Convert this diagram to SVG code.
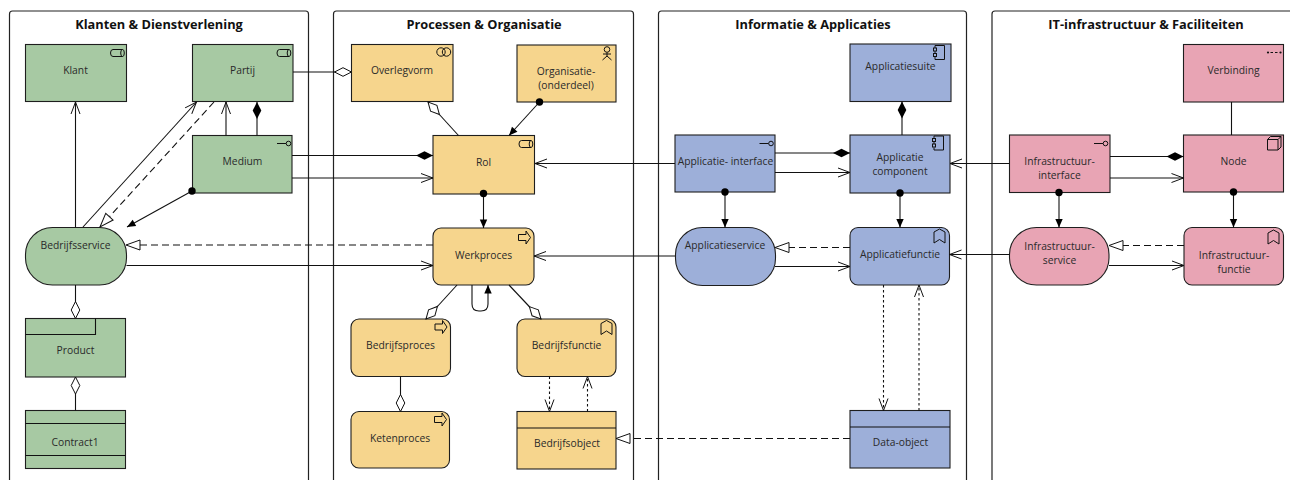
<svg xmlns="http://www.w3.org/2000/svg" width="1290" height="480" viewBox="0 0 1290 480">
<style>
text{font-family:"Open Sans","Noto Sans","Liberation Sans",sans-serif;font-size:10.3px;fill:#2a2a2a;text-anchor:middle}
text.t{font-size:12.8px;font-weight:700;fill:#111}
.p{fill:#fff;stroke:#222;stroke-width:1.2}
.n{stroke:#1e1e1e;stroke-width:1.1}
.g{fill:#a7c9a3}.o{fill:#f6d58d}.b{fill:#9dafd9}.r{fill:#e8a4b4}
.i{fill:none;stroke:#111;stroke-width:1}
.c{fill:none;stroke:#111;stroke-width:1.1}
.d{stroke-dasharray:7 4}
.s{stroke-dasharray:2.500 2.500}
</style>
<defs>
<marker id="open" markerUnits="userSpaceOnUse" markerWidth="16" markerHeight="16" refX="13" refY="8" orient="auto"><path d="M1 3.500L13 8L1 12.500" fill="none" stroke="#111" stroke-width="1"/></marker>
<marker id="fill" markerUnits="userSpaceOnUse" markerWidth="12" markerHeight="12" refX="10" refY="6" orient="auto"><path d="M1.500 2.300L10 6L1.500 9.700Z" fill="#000"/></marker>
<marker id="tri" markerUnits="userSpaceOnUse" markerWidth="18" markerHeight="18" refX="15" refY="9" orient="auto"><path d="M1 4L15 9L1 14Z" fill="#fff" stroke="#111"/></marker>
<marker id="dw" markerUnits="userSpaceOnUse" markerWidth="20" markerHeight="12" refX="18" refY="6" orient="auto"><path d="M1 6L9.500 1.700L18 6L9.500 10.300Z" fill="#fff" stroke="#111"/></marker>
<marker id="db" markerUnits="userSpaceOnUse" markerWidth="20" markerHeight="12" refX="18" refY="6" orient="auto"><path d="M1 6L9.500 1.700L18 6L9.500 10.300Z" fill="#000"/></marker>
<marker id="dot" markerUnits="userSpaceOnUse" markerWidth="10" markerHeight="10" refX="5" refY="5"><circle cx="5" cy="5" r="3.700" fill="#000"/></marker>
<g id="i-role"><path class="i" d="M12 0H2.500Q0 0 0 3.500Q0 7 2.500 7H12"/><ellipse class="i" cx="12" cy="3.500" rx="1.800" ry="3.500"/></g>
<g id="i-intf"><path class="i" d="M0 3.500H9"/><circle class="i" cx="11.500" cy="3.500" r="2.300"/></g>
<path id="i-proc" class="i" d="M0 3.500H7.500V0L12 6.500L7.500 13V9.500H0Z"/>
<path id="i-func" class="i" d="M0 3L5.500 0L11 3V14L5.500 10.500L0 14Z"/>
<g id="i-comp"><path class="i" d="M2 2.500V0H11.500V14H2V11.500M2 5.500V8"/><rect class="i" x="0.500" y="2.500" width="3" height="3"/><rect class="i" x="0.500" y="8" width="3" height="3"/></g>
</defs>

<g id="panels">
<g id="panel-klanten"><path class="p" d="M9.500 490V14Q9.500 11 12.500 11H305.500Q308.500 11 308.500 14V490Z"/><text class="t" x="159" y="29">Klanten &amp; Dienstverlening</text></g>
<g id="panel-processen"><path class="p" d="M333.500 490V14Q333.500 11 336.500 11H630.500Q633.500 11 633.500 14V490Z"/><text class="t" x="484" y="29">Processen &amp; Organisatie</text></g>
<g id="panel-informatie"><path class="p" d="M658.500 490V14Q658.500 11 661.500 11H963.500Q966.500 11 966.500 14V490Z"/><text class="t" x="813" y="29">Informatie &amp; Applicaties</text></g>
<g id="panel-it"><path class="p" d="M992 490V14Q992 11 995 11H1300V490Z"/><text class="t" x="1146" y="29">IT-infrastructuur &amp; Faciliteiten</text></g>
</g>

<g id="nodes">
<g id="klant"><rect class="n g" x="25.500" y="44.500" width="101" height="57"/><use href="#i-role" x="110.500" y="49.500"/><text x="75.500" y="74">Klant</text></g>
<g id="partij"><rect class="n g" x="192.500" y="44.500" width="100.500" height="57"/><use href="#i-role" x="277" y="49.500"/><text x="242.500" y="74">Partij</text></g>
<g id="medium"><rect class="n g" x="192.500" y="135.500" width="99.500" height="57.500"/><use href="#i-intf" x="277" y="140"/><text x="242.500" y="165">Medium</text></g>
<g id="bedrijfsservice"><rect class="n g" x="25.500" y="227.500" width="101" height="57.500" rx="27"/><text x="75.500" y="249">Bedrijfsservice</text></g>
<g id="product"><rect class="n g" x="25.500" y="318.500" width="100" height="58.500"/><path class="c" d="M25.500 334.500H95.500V318.500"/><text x="75.500" y="354">Product</text></g>
<g id="contract1"><rect class="n g" x="25.500" y="410.500" width="100" height="58"/><path class="c" d="M25.500 423.500H125.500M25.500 455.500H125.500"/><text x="75" y="446">Contract1</text></g>

<g id="overlegvorm"><rect class="n o" x="351.500" y="44.500" width="101.500" height="57"/><circle class="i" cx="441" cy="52" r="4.200"/><circle class="i" cx="446.500" cy="52" r="4.200"/><text x="402" y="74">Overlegvorm</text></g>
<g id="organisatie"><rect class="n o" x="517" y="45" width="99" height="57"/><path class="i" d="M607 52.500V56M603 54H611M607 56L602.500 60M607 56L611.500 60"/><circle class="i" cx="607" cy="49.500" r="2.800"/><text x="566" y="75">Organisatie-</text><text x="566" y="89">(onderdeel)</text></g>
<g id="rol"><rect class="n o" x="433" y="135.500" width="101.500" height="58.500"/><use href="#i-role" x="519" y="140.500"/><text x="483.500" y="166">Rol</text></g>
<g id="werkproces"><rect class="n o" x="433" y="228" width="101" height="57" rx="8"/><use href="#i-proc" x="518.500" y="231"/><text x="483.500" y="259">Werkproces</text></g>
<g id="bedrijfsproces"><rect class="n o" x="351" y="319" width="99.500" height="57.500" rx="8"/><use href="#i-proc" x="435" y="320.500"/><text x="400.500" y="349">Bedrijfsproces</text></g>
<g id="bedrijfsfunctie"><rect class="n o" x="517" y="319" width="99" height="57.500" rx="8"/><use href="#i-func" x="601" y="320.500"/><text x="566.500" y="349">Bedrijfsfunctie</text></g>
<g id="ketenproces"><rect class="n o" x="351" y="411.500" width="98.500" height="56.500" rx="8"/><use href="#i-proc" x="434.500" y="413"/><text x="400" y="442">Ketenproces</text></g>
<g id="bedrijfsobject"><rect class="n o" x="517" y="411.500" width="99" height="57.500"/><path class="c" d="M517 428H616"/><text x="567" y="447">Bedrijfsobject</text></g>

<g id="applicatie-interface"><rect class="n b" x="675" y="135" width="100" height="57"/><use href="#i-intf" x="759.500" y="140"/><text x="725.500" y="165">Applicatie- interface</text></g>
<g id="applicatiesuite"><rect class="n b" x="850" y="44" width="101" height="57.500"/><use href="#i-comp" x="933" y="45.500"/><text x="900.500" y="70">Applicatiesuite</text></g>
<g id="applicatie-component"><rect class="n b" x="850" y="135" width="100" height="58"/><use href="#i-comp" x="932" y="136"/><text x="900" y="161">Applicatie</text><text x="900" y="175">component</text></g>
<g id="applicatieservice"><rect class="n b" x="675.500" y="227.500" width="100" height="58" rx="27"/><text x="725" y="249">Applicatieservice</text></g>
<g id="applicatiefunctie"><rect class="n b" x="850" y="227.500" width="99.500" height="57.500" rx="8"/><use href="#i-func" x="934" y="229"/><text x="900" y="258">Applicatiefunctie</text></g>
<g id="data-object"><rect class="n b" x="850" y="410.500" width="100" height="57.500"/><path class="c" d="M850 427H950"/><text x="900.500" y="446">Data-object</text></g>

<g id="infrastructuur-interface"><rect class="n r" x="1009.500" y="135" width="100.500" height="57.500"/><use href="#i-intf" x="1094" y="140"/><text x="1059.500" y="165">Infrastructuur-</text><text x="1059.500" y="179">interface</text></g>
<g id="verbinding"><rect class="n r" x="1183.500" y="44.500" width="100" height="57.500"/><path class="i" d="M1270.500 52.500H1273M1275 52.500H1277.500"/><circle cx="1268" cy="52.500" r="1.100" fill="#111"/><circle cx="1280.500" cy="52.500" r="1.100" fill="#111"/><text x="1233.500" y="74">Verbinding</text></g>
<g id="node"><rect class="n r" x="1183.500" y="135" width="100" height="57"/><path class="i" d="M1267.500 139.500H1278V150H1267.500ZM1267.500 139.500L1270.500 136.500H1281V147L1278 150M1278 139.500L1281 136.500"/><text x="1233.500" y="165">Node</text></g>
<g id="infrastructuur-service"><rect class="n r" x="1009.500" y="227.500" width="99.500" height="57.500" rx="27"/><text x="1059.500" y="249.500">Infrastructuur-</text><text x="1059.500" y="264">service</text></g>
<g id="infrastructuur-functie"><rect class="n r" x="1184" y="227.500" width="99.500" height="57.500" rx="8"/><use href="#i-func" x="1268" y="230"/><text x="1234" y="258.500">Infrastructuur-</text><text x="1234" y="272.500">functie</text></g>
</g>

<g id="connectors">
<path class="c" marker-end="url(#open)" d="M75.500 227.500V102"/>
<path class="c" marker-end="url(#open)" d="M83 227L196.500 102"/>
<path class="c d" marker-end="url(#tri)" d="M214 102L100 227"/>
<path class="c" marker-end="url(#open)" d="M226 135.500V102"/>
<path class="c" marker-end="url(#db)" d="M257 135.500V102"/>
<path class="c" marker-start="url(#dot)" marker-end="url(#fill)" d="M192 191L127 227"/>
<path class="c" marker-end="url(#dw)" d="M293 72H351.500"/>
<path class="c" marker-end="url(#db)" d="M292 155.500H433"/>
<path class="c" marker-end="url(#open)" d="M292 178H433"/>
<path class="c d" marker-end="url(#tri)" d="M433 245H126"/>
<path class="c" marker-end="url(#open)" d="M126.500 265.500H433"/>
<path class="c" marker-end="url(#dw)" d="M75.500 285V318.500"/>
<path class="c" marker-end="url(#dw)" d="M75.500 410.500V377"/>
<path class="c" marker-end="url(#dw)" d="M458.500 135.500L428 102"/>
<path class="c" marker-start="url(#dot)" marker-end="url(#fill)" d="M539.500 102L509 135.500"/>
<path class="c" marker-start="url(#dot)" marker-end="url(#fill)" d="M483.500 193.500V228"/>
<path class="c" marker-end="url(#open)" d="M675 163.500H535"/>
<path class="c" marker-end="url(#open)" d="M675 256H534"/>
<path class="c" marker-end="url(#dw)" d="M457 285L426 319"/>
<path class="c" marker-end="url(#dw)" d="M509 285L541 319"/>
<path class="c" marker-end="url(#fill)" d="M472 285V304Q472 311 479 311H481Q488 311 488 304V285"/>
<path class="c" marker-end="url(#dw)" d="M400.500 376.500V411.500"/>
<path class="c s" marker-end="url(#open)" d="M549.500 376.500V411.500"/>
<path class="c s" marker-end="url(#open)" d="M587.500 411.500V376.500"/>
<path class="c d" marker-end="url(#tri)" d="M850 438.500H616"/>
<path class="c" marker-end="url(#db)" d="M775 153H850"/>
<path class="c" marker-end="url(#open)" d="M775 172.500H850"/>
<path class="c" marker-end="url(#db)" d="M902 135V101.500"/>
<path class="c" marker-start="url(#dot)" marker-end="url(#fill)" d="M725 192V227.500"/>
<path class="c" marker-start="url(#dot)" marker-end="url(#fill)" d="M900 193V227.500"/>
<path class="c d" marker-end="url(#tri)" d="M850 247.500H775"/>
<path class="c" marker-end="url(#open)" d="M775 266.500H850"/>
<path class="c s" marker-end="url(#open)" d="M883.500 285V410.500"/>
<path class="c s" marker-end="url(#open)" d="M919 410.500V285"/>
<path class="c" marker-end="url(#open)" d="M1009.500 163.500H950"/>
<path class="c" marker-end="url(#open)" d="M1009.500 254.500H949.500"/>
<path class="c" marker-end="url(#db)" d="M1110 156.500H1183.500"/>
<path class="c" marker-end="url(#open)" d="M1110 178H1183.500"/>
<path class="c" d="M1231.500 102V135"/>
<path class="c" marker-start="url(#dot)" marker-end="url(#fill)" d="M1059 192.500V227.500"/>
<path class="c" marker-start="url(#dot)" marker-end="url(#fill)" d="M1233.500 192V227.500"/>
<path class="c d" marker-end="url(#tri)" d="M1184 245.500H1109"/>
<path class="c" marker-end="url(#open)" d="M1109 265.500H1184"/>
</g>
</svg>
